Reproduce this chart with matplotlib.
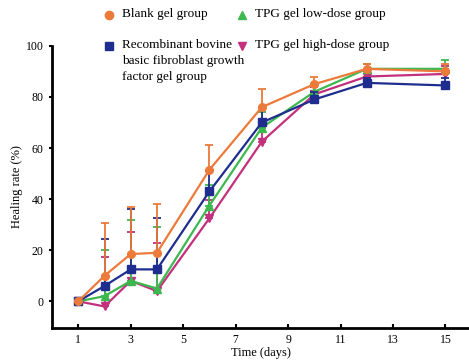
import matplotlib
matplotlib.use("Agg")
import matplotlib.pyplot as plt
import numpy as np
from matplotlib.lines import Line2D

plt.rcParams['font.family'] = ['Liberation Serif', 'DejaVu Serif']

days = [1, 2, 3, 4, 6, 8, 10, 12, 15]
labels = ["Blank gel group",
          "Recombinant bovine\nbasic fibroblast growth\nfactor gel group",
          "TPG gel low-dose group",
          "TPG gel high-dose group"]
blank = [0, 10, 18.5, 19, 51.5, 76, 85, 91, 90]
blank_err = [0, 20.5, 18.5, 19, 9.5, 7, 3, 2, 3]
rbfgf = [0, 6, 12.5, 12.5, 43, 70, 79, 85.5, 84.5]
rbfgf_err = [0, 18.5, 23.5, 20, 8, 6, 3, 2, 3]
low = [0, 2, 8, 5, 37.5, 68, 82, 91, 91]
low_err = [0, 18, 24, 24, 8, 6, 3, 2, 3.5]
high = [0, -2, 8, 4, 32.5, 62.5, 81, 88, 89]
high_err = [0, 19.5, 19, 19, 7, 6, 3, 2, 3]

series = [blank, rbfgf, low, high]
errs = [blank_err, rbfgf_err, low_err, high_err]
colors = ['#EC7A3A', '#1F2E8E', '#3DB84E', '#C2307E']
markers = ['o', 's', '^', 'v']

W, H = 469, 361
fig = plt.figure(figsize=(W / 100, H / 100), dpi=100)
ax = fig.add_axes([0.111, 0.091, 0.889, 0.782])

order = [3, 2, 1, 0]
for i in order:
    y = np.array(series[i]); e = np.array(errs[i])
    ax.errorbar(days, y, yerr=[np.zeros_like(e), e], color=colors[i],
                marker=markers[i], markersize=5.5, linewidth=1.6,
                elinewidth=1.3, capsize=3, capthick=1.3, zorder=3 + (3 - i))

ax.set_xlim(0, 15.9)
ax.set_ylim(-10.5, 100)
ax.set_xticks([1, 3, 5, 7, 9, 11, 13, 15])
ax.set_yticks([0, 20, 40, 60, 80, 100])
ax.spines['top'].set_visible(False)
ax.spines['right'].set_visible(False)
ax.spines['left'].set_linewidth(2)
ax.spines['bottom'].set_linewidth(2)
ax.tick_params(axis='both', labelsize=8.5, length=3, width=1.5, direction='in', pad=4)
ax.tick_params(axis='y', direction='out', length=2)
ax.set_xlabel("Time (days)", fontsize=9, labelpad=1)
ax.set_ylabel("Healing rate (%)", fontsize=9, labelpad=2)

# manual legend (marker aligned with first text line, as in the reference)
leg_pos = [(109, 15), (109, 46), (242, 15), (242, 46)]
for i, (px, py) in enumerate(leg_pos):
    fx, fy = px / W, 1 - py / H
    fig.add_artist(Line2D([fx], [fy], color=colors[i], marker=markers[i],
                          linestyle='None', markersize=6, transform=fig.transFigure))
    fig.text(fx + 13 / W, fy + 7 / H, labels[i], fontsize=9.5, va='top', ha='left',
             linespacing=1.42)

fig.savefig("out.png", dpi=100)
